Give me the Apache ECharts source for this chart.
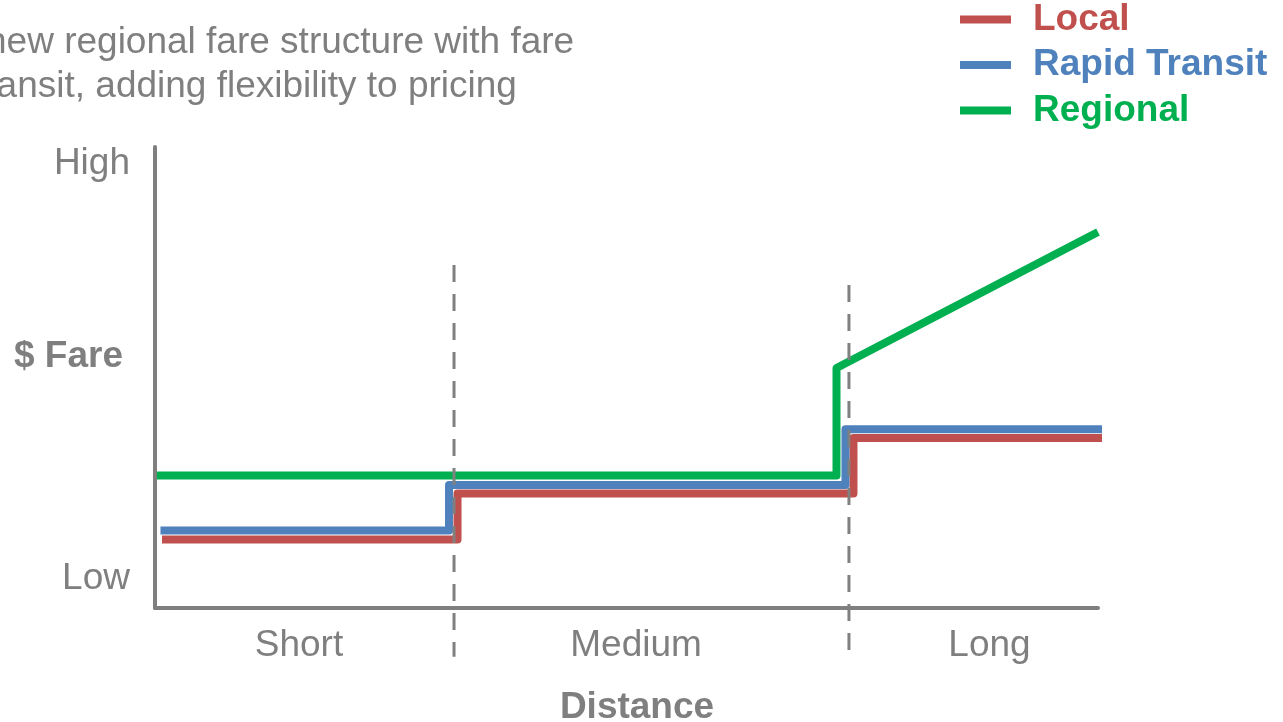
<!DOCTYPE html>
<html>
<head>
<meta charset="utf-8">
<script src="https://cdn.jsdelivr.net/npm/echarts@6/dist/echarts.min.js"></script>
<style>html,body{margin:0;padding:0;background:#fff}#c{width:1283px;height:722px}</style>
</head>
<body>
<div id="c"></div>
<script>
// ---- data (x: distance 0-100, y: fare 0-100) ----
var seriesNames = ['Local', 'Rapid Transit', 'Regional'];
var seriesColors = ['#C0504D', '#4F81BD', '#00B050'];
var localFare = [[0.74, 14.86], [32.08, 14.86], [32.08, 24.84], [74.07, 24.84], [74.07, 36.88], [101.0, 36.88]];
var rapidFare = [[0.58, 16.81], [31.18, 16.81], [31.18, 26.68], [73.22, 26.68], [73.22, 38.76], [100.9, 38.76]];
var regionalFare = [[0.2, 28.74], [72.27, 28.74], [72.27, 52.06], [100, 81.56]];
var boundaryShortMedium = [[31.71, 74.4], [31.71, -10.6]];
var boundaryMediumLong = [[73.59, 70.07], [73.59, -9.5]];
var xTickLabels = ['Short', 'Medium', 'Long'];
var xTickValues = [15.27, 51.01, 88.49];
var yTickLabels = ['Low', '$ Fare', 'High'];
var yTickValues = [6.3, 54.4, 96.3];
var titleLines = ['new regional fare structure with fare', 'transit, adding flexibility to pricing'];

var FONT = '"Liberation Sans", Arial, Helvetica, sans-serif';
var GRAY = '#7F7F7F';
var FS = 37;

function fareLine(name, data, color) {
  return {
    name: name, type: 'line', data: data, color: color,
    symbol: 'none', showSymbol: false, clip: false, z: 3,
    lineStyle: { color: color, width: 8, join: 'round', cap: 'butt' }
  };
}
function dashLine(data) {
  return {
    type: 'line', data: data, symbol: 'none', showSymbol: false, clip: false, z: 4,
    lineStyle: { color: '#808080', width: 3, type: [17, 12] }
  };
}

var chart = echarts.init(document.getElementById('c'), null, { renderer: 'canvas' });
chart.setOption({
  animation: false,
  backgroundColor: '#fff',
  title: [
    { text: titleLines[0], left: -19, top: 19, textStyle: { color: GRAY, fontSize: FS, fontWeight: 'normal', fontFamily: FONT } },
    { text: titleLines[1], left: -31, top: 63, textStyle: { color: GRAY, fontSize: FS, fontWeight: 'normal', fontFamily: FONT } }
  ],
  legend: {
    orient: 'vertical', left: 955, top: -4, itemGap: 8.5,
    itemWidth: 51, itemHeight: 8, icon: 'rect',
    textStyle: { fontSize: FS, fontWeight: 'bold', fontFamily: FONT, padding: [0, 0, 0, 17] },
    data: seriesNames.map(function (n, i) { return { name: n, textStyle: { color: seriesColors[i] } }; })
  },
  grid: { left: 155, right: 185, top: 147, bottom: 114, containLabel: false, outerBoundsMode: 'none' },
  xAxis: {
    type: 'value', min: 0, max: 100,
    name: 'Distance', nameLocation: 'middle', nameGap: 81,
    nameTextStyle: { color: GRAY, fontSize: FS, fontWeight: 'bold', fontFamily: FONT, padding: [0, 0, 0, 21] },
    axisLine: { show: true, lineStyle: { color: GRAY, width: 4 } },
    axisTick: { show: false },
    splitLine: { show: false },
    axisLabel: {
      customValues: xTickValues, margin: 19, color: GRAY, fontSize: FS, fontFamily: FONT,
      formatter: function (v) { var i = xTickValues.indexOf(v); return i >= 0 ? xTickLabels[i] : ''; }
    }
  },
  yAxis: {
    type: 'value', min: 0, max: 100,
    axisLine: { show: true, lineStyle: { color: GRAY, width: 4 } },
    axisTick: { show: false },
    splitLine: { show: false },
    axisLabel: {
      customValues: yTickValues, margin: 25, color: GRAY, fontSize: FS, fontFamily: FONT,
      formatter: function (v) {
        var i = yTickValues.indexOf(v);
        if (i < 0) return '';
        return i === 1 ? '{b|' + yTickLabels[i] + '}' : yTickLabels[i];
      },
      rich: { b: { fontWeight: 'bold', fontSize: FS, color: GRAY, fontFamily: FONT, padding: [0, 7, 0, 0] } }
    }
  },
  series: [
    fareLine(seriesNames[0], localFare, seriesColors[0]),
    fareLine(seriesNames[1], rapidFare, seriesColors[1]),
    fareLine(seriesNames[2], regionalFare, seriesColors[2]),
    dashLine(boundaryShortMedium),
    dashLine(boundaryMediumLong)
  ]
});
</script>
</body>
</html>
